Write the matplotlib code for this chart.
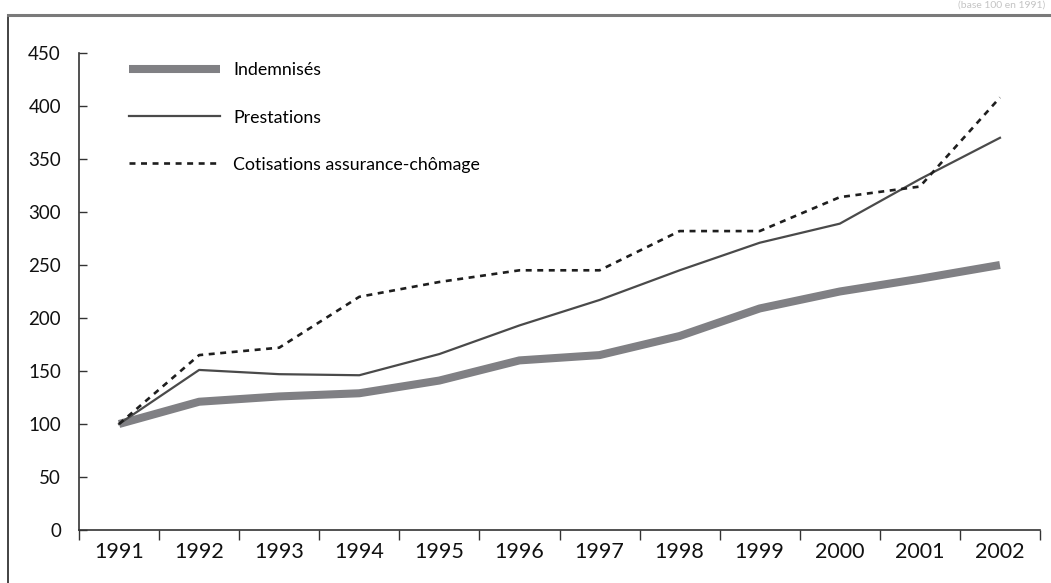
import matplotlib
matplotlib.use("Agg")
import matplotlib.pyplot as plt
from matplotlib.lines import Line2D
import numpy as np

plt.rcParams['font.family'] = ['Lato', 'DejaVu Sans']
plt.rcParams['lines.scale_dashes'] = False

# indices base 100 en 1991
annees = ['1991', '1992', '1993', '1994', '1995', '1996',
          '1997', '1998', '1999', '2000', '2001', '2002']
indemnises = [100, 121, 126, 129, 141, 160, 165, 183, 209, 225, 237, 250]
prestations = [100, 151, 147, 146, 166, 193, 217, 245, 271, 289, 331, 370]
cotisations = [100, 165, 172, 220, 234, 245, 245, 282, 282, 314, 324, 408]

W, H = 1051, 583
fig = plt.figure(figsize=(W / 100, H / 100), dpi=100)
ax = fig.add_axes([79 / W, 1 - 530 / H, (1040 - 79) / W, (530 - 53) / H])

x = np.arange(len(annees))
ax.plot(x, indemnises, color='#808084', lw=5.8, solid_capstyle='butt',
        solid_joinstyle='round', label='Indemnisés')
ax.plot(x, prestations, color='#4a4a4a', lw=1.6, label='Prestations')
ax.plot(x, cotisations, color='#1e1e1e', lw=1.9, dashes=(4.3, 4.0),
        label='Cotisations assurance-chômage')

ax.set_xlim(-0.5, len(annees) - 0.5)
ax.set_ylim(0, 450)
ax.set_yticks(np.arange(0, 451, 50))
ax.tick_params(axis='y', direction='in', length=6, width=1, colors='#333333',
               labelsize=13.5, labelcolor='#111111', pad=13)

# graduations aux limites des années, libellés au centre
ax.set_xticks(np.arange(-0.5, len(annees), 1))
ax.set_xticklabels([])
ax.set_xticks(x, minor=True)
ax.set_xticklabels(annees, minor=True)
ax.tick_params(axis='x', which='major', direction='out', length=7, width=1,
               colors='#333333')
ax.tick_params(axis='x', which='minor', length=0, labelsize=15.5,
               labelcolor='#111111', pad=9)

for s in ['top', 'right']:
    ax.spines[s].set_visible(False)
for s in ['left', 'bottom']:
    ax.spines[s].set_color('#333333')
    ax.spines[s].set_linewidth(1.2)

ax.legend(loc='upper left', bbox_to_anchor=(0.045, 0.995), frameon=False,
          fontsize=12.8, handlelength=5.1, handletextpad=0.75, labelspacing=1.75,
          borderaxespad=0)

# cadre
fig.add_artist(Line2D([8 / W, 8 / W], [0, 1 - 15 / H], transform=fig.transFigure,
                      color='#222222', lw=1.2))
fig.add_artist(Line2D([8 / W, 1], [1 - 15 / H, 1 - 15 / H], transform=fig.transFigure,
                      color='#7a7a7a', lw=2.2))
fig.text(1 - 6 / W, 1 - 1 / H, '(base 100 en 1991)', ha='right', va='top',
         fontsize=7.5, color='#c4c4c4')

fig.savefig('out.png', dpi=100)
